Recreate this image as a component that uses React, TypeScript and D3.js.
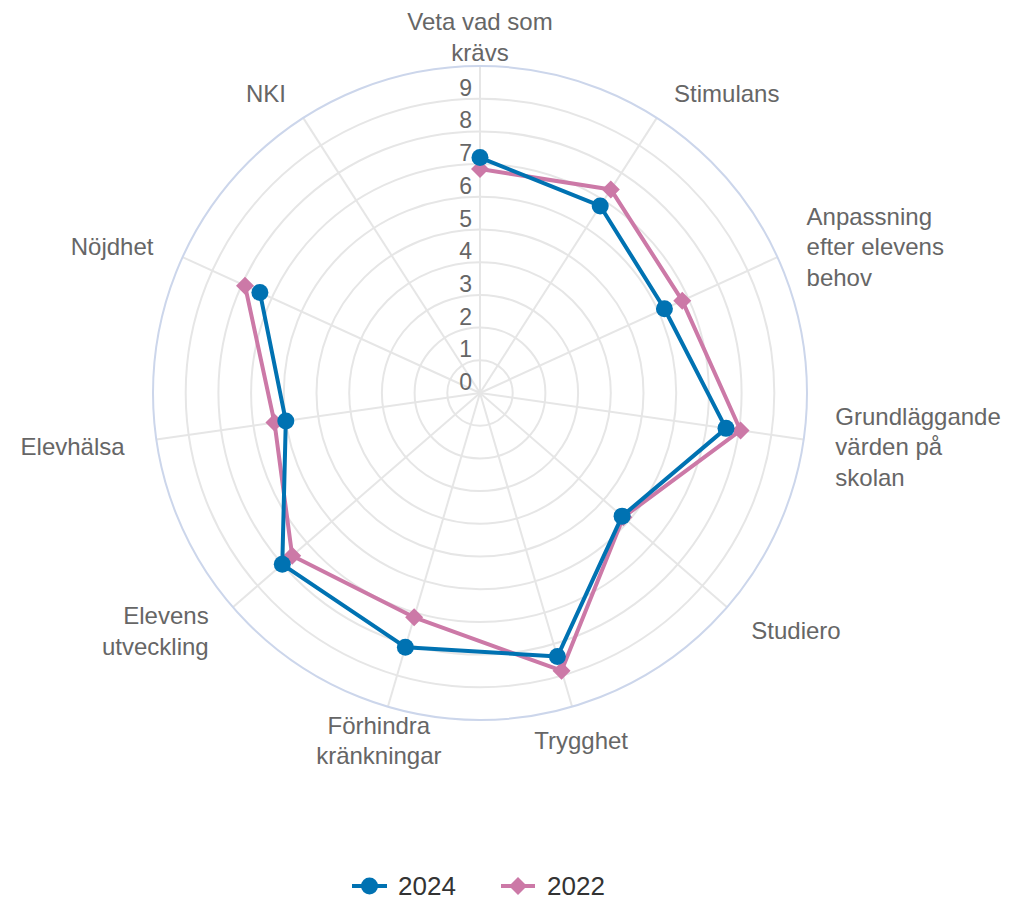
import React from "react";
import * as d3 from "d3";

const categories: string[][] = [
  ["Veta vad som", "krävs"],
  ["Stimulans"],
  ["Anpassning", "efter elevens", "behov"],
  ["Grundläggande", "värden på", "skolan"],
  ["Studiero"],
  ["Trygghet"],
  ["Förhindra", "kränkningar"],
  ["Elevens", "utveckling"],
  ["Elevhälsa"],
  ["Nöjdhet"],
  ["NKI"],
];

const values2024: (number | null)[] = [7.2, 6.8, 6.2, 7.6, 5.75, 8.4, 8.1, 8.0, 6.0, 7.4, null];
const values2022: (number | null)[] = [6.85, 7.4, 6.8, 8.05, 5.8, 8.85, 7.15, 7.6, 6.35, 7.9, null];

const yTicks: number[] = [0, 1, 2, 3, 4, 5, 6, 7, 8, 9];
const yMax = 10;

const seriesNames = ["2024", "2022"];

const W = 1009;
const H = 900;
const CX = 480;
const CY = 393;
const R = 327;
const FONT = "'Liberation Sans', Arial, Helvetica, sans-serif";
const BLUE = "#0072B2";
const PINK = "#CC79A7";

export default function App() {
  const n = categories.length;
  const rScale = d3.scaleLinear().domain([0, yMax]).range([0, R]);
  const aScale = d3
    .scaleLinear()
    .domain([0, n])
    .range([0, 2 * Math.PI]);

  const line = d3
    .lineRadial<number | null>()
    .defined((d) => d !== null)
    .angle((_, i) => aScale(i))
    .radius((d) => rScale(d as number));

  const pt = (i: number, v: number) => {
    const a = aScale(i);
    const r = rScale(v);
    return [CX + r * Math.sin(a), CY - r * Math.cos(a)];
  };

  const labelR = R + 32;
  const fs = 24;
  const lh = 30.7;

  const diamond = (x: number, y: number, s: number) =>
    `M${x},${y - s}L${x + s},${y}L${x},${y + s}L${x - s},${y}Z`;

  return (
    <svg
      width={W}
      height={H}
      style={{ position: "absolute", left: 0, top: 0, background: "#fff" }}
      fontFamily={FONT}
    >
      {/* grid circles */}
      {d3.range(1, yMax).map((v) => (
        <circle key={v} cx={CX} cy={CY} r={rScale(v)} fill="none" stroke="#e6e6e6" strokeWidth={2} />
      ))}
      {/* spokes */}
      {categories.map((_, i) => {
        const [x, y] = pt(i, yMax);
        return <line key={i} x1={CX} y1={CY} x2={x} y2={y} stroke="#e6e6e6" strokeWidth={2} />;
      })}
      <circle cx={CX} cy={CY} r={rScale(yMax)} fill="none" stroke="#ccd6eb" strokeWidth={2} />

      {/* y labels */}
      {yTicks.map((v) => (
        <text
          key={v}
          x={CX - 8}
          y={CY - rScale(v) - 3}
          textAnchor="end"
          fontSize={23}
          fill="#666666"
        >
          {v}
        </text>
      ))}

      {/* category labels */}
      {categories.map((lines, i) => {
        const a = aScale(i);
        const sx = Math.sin(a);
        const x = CX + labelR * sx;
        const y = CY - labelR * Math.cos(a) + 3;
        const anchor = Math.abs(sx) < 0.35 ? "middle" : sx > 0 ? "start" : "end";
        const y0 = y - ((lines.length - 1) * lh) / 2 + fs * 0.35;
        return (
          <text key={i} x={x} y={y0} textAnchor={anchor} fontSize={fs} fill="#666666">
            {lines.map((l, j) => (
              <tspan key={j} x={x} y={y0 + j * lh}>
                {l}
              </tspan>
            ))}
          </text>
        );
      })}

      {/* series 2022 */}
      <g transform={`translate(${CX},${CY})`}>
        <path d={line(values2022) || ""} fill="none" stroke={PINK} strokeWidth={4} strokeLinejoin="round" />
      </g>
      {values2022.map((v, i) => {
        if (v === null) return null;
        const [x, y] = pt(i, v);
        return <path key={i} d={diamond(x, y, 9)} fill={PINK} />;
      })}

      {/* series 2024 */}
      <g transform={`translate(${CX},${CY})`}>
        <path d={line(values2024) || ""} fill="none" stroke={BLUE} strokeWidth={4} strokeLinejoin="round" />
      </g>
      {values2024.map((v, i) => {
        if (v === null) return null;
        const [x, y] = pt(i, v);
        return <circle key={i} cx={x} cy={y} r={8.5} fill={BLUE} />;
      })}

      {/* legend */}
      <g>
        <line x1={352} x2={387} y1={886} y2={886} stroke={BLUE} strokeWidth={4} />
        <circle cx={369.5} cy={886} r={8.5} fill={BLUE} />
        <text x={398} y={886} dy="0.35em" fontSize={26} fill="#333333">
          {seriesNames[0]}
        </text>
        <line x1={501} x2={535} y1={886} y2={886} stroke={PINK} strokeWidth={4} />
        <path d={diamond(518, 886, 9)} fill={PINK} />
        <text x={547} y={886} dy="0.35em" fontSize={26} fill="#333333">
          {seriesNames[1]}
        </text>
      </g>
    </svg>
  );
}
